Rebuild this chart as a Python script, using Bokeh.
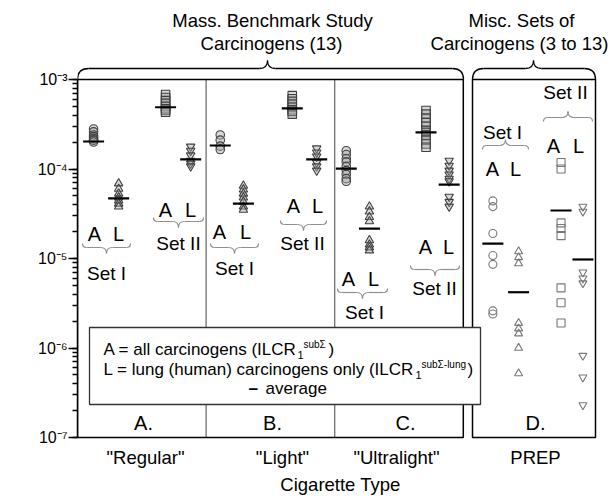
import math
from bokeh.plotting import figure
from bokeh.models import Range1d, Label, CustomJSTickFormatter
from bokeh.core.properties import value
from bokeh.embed import file_html
from bokeh.resources import INLINE

# ---------------- data (cancer risk sub-totals) ----------------
cigarette_types = ['"Regular"', '"Light"', '"Ultralight"', "PREP"]
panel_letters = ["A.", "B.", "C.", "D."]

# Set I, all carcinogens (A)
regular_s1_all = [2.8e-4, 2.6e-4, 2.4e-4, 2.3e-4, 2.2e-4, 2.1e-4, 2.1e-4, 2.0e-4]
light_s1_all = [2.4e-4, 2.1e-4, 1.8e-4, 1.65e-4]
ultra_s1_all = [1.6e-4, 1.45e-4, 1.3e-4, 1.2e-4, 1.07e-4, 9.6e-5, 8.7e-5, 7.8e-5, 7.3e-5]
prep_s1_all = [4.4e-5, 3.8e-5, 1.9e-5, 1.08e-5, 8.6e-6, 2.6e-6, 2.4e-6]
# Set I, lung carcinogens (L)
regular_s1_lung = [6.9e-5, 6.0e-5, 5.3e-5, 4.8e-5, 4.45e-5, 4.1e-5, 3.8e-5]
light_s1_lung = [6.5e-5, 5.9e-5, 5.3e-5, 4.8e-5, 4.3e-5, 3.8e-5, 3.5e-5]
ultra_s1_lung = [3.8e-5, 3.35e-5, 2.9e-5, 2.6e-5, 1.6e-5, 1.43e-5, 1.33e-5, 1.23e-5]
prep_s1_lung = [1.2e-5, 1.03e-5, 8.8e-6, 1.9e-6, 1.65e-6, 1.45e-6, 1.0e-6, 5.2e-7]
# Set II, all carcinogens (A)
regular_s2_all = [6.8e-4, 6.3e-4, 5.8e-4, 5.4e-4, 5.0e-4, 4.7e-4, 4.5e-4, 4.3e-4]
light_s2_all = [6.6e-4, 6.1e-4, 5.7e-4, 5.3e-4, 4.9e-4, 4.6e-4, 4.4e-4, 4.1e-4]
ultra_s2_all = [4.5e-4, 4.1e-4, 3.7e-4, 3.3e-4, 3.0e-4, 2.7e-4, 2.56e-4, 2.4e-4, 2.1e-4, 1.9e-4, 1.75e-4]
prep_s2_all = [1.18e-4, 1.0e-4, 2.5e-5, 2.16e-5, 1.8e-5, 4.7e-6, 3.2e-6, 1.9e-6]
# Set II, lung carcinogens (L)
regular_s2_lung = [1.78e-4, 1.6e-4, 1.42e-4, 1.24e-4, 1.15e-4, 1.07e-4]
light_s2_lung = [1.7e-4, 1.53e-4, 1.38e-4, 1.18e-4, 1.07e-4, 9.6e-5]
ultra_s2_lung = [1.24e-4, 1.09e-4, 9.6e-5, 8.7e-5, 7.8e-5, 7.3e-5, 4.9e-5, 4.3e-5, 3.8e-5]
prep_s2_lung = [3.8e-5, 3.35e-5, 7.0e-6, 6.0e-6, 5.3e-6, 8.2e-7, 4.7e-7, 2.3e-7]

# averages (Regular, Light, Ultralight, PREP)
avg_s1_all = [2.03e-4, 1.83e-4, 1.01e-4, 1.47e-5]
avg_s1_lung = [4.7e-5, 4.1e-5, 2.16e-5, 4.2e-6]
avg_s2_all = [4.9e-4, 4.75e-4, 2.56e-4, 3.44e-5]
avg_s2_lung = [1.28e-4, 1.28e-4, 6.7e-5, 9.75e-6]

# ---------------- layout ----------------
W, H = 611, 498
LEFT = 77
XPX = 128.6                     # pixels per panel unit
YPX = 89.5                      # pixels per decade
X_END = (W - LEFT) / XPX
LOG_TOP = -3 + 79 / YPX
LOG_BOT = LOG_TOP - H / YPX

# horizontal slot of each group inside its panel (panel units)
slot_s1_all = [0.125, 1.11, 2.09, 3.23]
slot_s1_lung = [0.32, 1.29, 2.27, 3.43]
slot_s2_all = [0.685, 1.67, 2.71, 3.76]
slot_s2_lung = [0.88, 1.86, 2.89, 3.93]


def X(px):
    return (px - LEFT) / XPX


def V(py):
    return 10 ** (-3 - (py - 79) / YPX)


FONT = value("Liberation Sans")

p = figure(width=W, height=H, x_range=Range1d(0, X_END),
           y_range=Range1d(10 ** LOG_BOT, 10 ** LOG_TOP), y_axis_type="log",
           x_axis_location=None, output_backend="svg", toolbar_location=None,
           min_border=0, min_border_left=LEFT)
p.outline_line_color = None
p.xgrid.visible = False
p.ygrid.visible = False

ax = p.yaxis[0]
ax.bounds = (1e-7, 1e-3)
ax.axis_line_color = "black"
ax.axis_line_width = 1.5
ax.major_tick_out = 9
ax.major_tick_in = 0
ax.minor_tick_out = 5
ax.minor_tick_in = 0
ax.major_tick_line_width = 1.5
ax.minor_tick_line_width = 1.5
ax.major_label_standoff = 1
ax.major_label_text_font = "Liberation Sans"
ax.major_label_text_font_size = "16px"
ax.major_label_text_color = "black"
ax.formatter = CustomJSTickFormatter(code="""
const e = Math.round(Math.log10(tick));
const sup = {"-":"\u207b","0":"\u2070","1":"\u00b9","2":"\u00b2","3":"\u00b3","4":"\u2074","5":"\u2075","6":"\u2076","7":"\u2077","8":"\u2078","9":"\u2079"};
return "10" + String(e).split("").map(c => sup[c]).join("");
""")

# ---------------- panel frames ----------------
p.segment(x0=[1, 2], x1=[1, 2], y0=[1e-7, 1e-7], y1=[1e-3, 1e-3],
          line_color="#6f6f6f", line_width=1.3)
p.quad(left=[0, X(472)], right=[3.0, X(595)], bottom=[1e-7, 1e-7], top=[1e-3, 1e-3],
       fill_color=None, line_color="black", line_width=1.5)


# ---------------- braces ----------------
def brace(x0, x1, base_py, c, t, d, color, lw, xm=None):
    """curly brace between page-x x0..x1 at page-y base_py; d=+1 tip up, -1 tip down"""
    if xm is None:
        xm = (x0 + x1) / 2
    yb = V(base_py)
    ye = V(base_py + d * c)
    yt = V(base_py - d * t)
    p.quadratic(x0=[X(x0), X(x1), X(xm - t), X(xm + t)],
                y0=[ye, ye, yb, yb],
                x1=[X(x0 + c), X(x1 - c), X(xm), X(xm)],
                y1=[yb, yb, yt, yt],
                cx=[X(x0), X(x1), X(xm), X(xm)],
                cy=[yb, yb, yb, yb], line_color=color, line_width=lw)
    p.segment(x0=[X(x0 + c), X(xm + t)], x1=[X(xm - t), X(x1 - c)],
              y0=[yb, yb], y1=[yb, yb], line_color=color, line_width=lw)


brace(77, 463, 68, 11, 8, 1, "black", 1.3, xm=267)
brace(472, 595, 68, 11, 8, 1, "black", 1.3, xm=533)
for (a, b, y, d) in [(82, 130, 247, -1), (153, 203, 221, -1), (210, 258, 247, -1),
                     (280, 326, 224, -1), (337, 387, 292, -1), (410, 459, 269, -1),
                     (482, 528, 145, 1), (543, 592, 117, 1)]:
    brace(a, b, y, 4, 6, d, "#8f8f8f", 1.2)

# ---------------- data marks ----------------
groups = [
    (slot_s1_all, [regular_s1_all, light_s1_all, ultra_s1_all, prep_s1_all], "circle"),
    (slot_s1_lung, [regular_s1_lung, light_s1_lung, ultra_s1_lung, prep_s1_lung], "triangle"),
    (slot_s2_all, [regular_s2_all, light_s2_all, ultra_s2_all, prep_s2_all], "square"),
    (slot_s2_lung, [regular_s2_lung, light_s2_lung, ultra_s2_lung, prep_s2_lung], "inverted_triangle"),
]
for slots, series, marker in groups:
    for i, vals in enumerate(series):
        if i < 3:
            p.scatter(x=[slots[i]] * len(vals), y=vals, marker=marker, size=8.5,
                      line_color="#404040", fill_color="#a0a0a0", fill_alpha=0.4,
                      line_width=1.1)
        else:
            p.scatter(x=[slots[i]] * len(vals), y=vals, marker=marker, size=8,
                      line_color="#777777", fill_color=None, line_width=1.1)

for slots, avgs in [(slot_s1_all, avg_s1_all), (slot_s1_lung, avg_s1_lung),
                    (slot_s2_all, avg_s2_all), (slot_s2_lung, avg_s2_lung)]:
    p.scatter(x=slots, y=avgs, marker="dash", size=21, line_color="black", line_width=2.2)

# ---------------- legend box ----------------
p.quad(left=[X(89)], right=[X(480)], bottom=[V(404)], top=[V(327)],
       fill_color="white", line_color="#333333", line_width=1.3)


def txt(xs, ys, texts, size, align="center", color="black", yoff=0, style="normal"):
    p.text(x=xs, y=ys, text=texts, text_font=FONT, text_font_size=size,
           text_align=align, text_baseline="middle", text_color=color,
           y_offset=yoff, text_font_style=style)


L1, L2, L3 = 349, 369, 388
txt([X(103)], [V(L1)], ["A = all carcinogens (ILCR"], "17px", align="left")
txt([X(297)], [V(L1)], ["1"], "11px", align="left", yoff=5)
txt([X(303)], [V(L1)], ["sub\u03a3"], "10px", align="left", yoff=-5)
txt([X(328)], [V(L1)], [")"], "17px", align="left")
txt([X(103)], [V(L2)], ["L = lung (human) carcinogens only (ILCR"], "17px", align="left")
txt([X(415)], [V(L2)], ["1"], "11px", align="left", yoff=5)
txt([X(421)], [V(L2)], ["sub\u03a3-lung"], "10px", align="left", yoff=-5)
txt([X(467)], [V(L2)], [")"], "17px", align="left")
txt([X(248)], [V(L3)], ["\u2013"], "17px", align="left", style="bold")
txt([X(265)], [V(L3)], ["average"], "17px", align="left")

# ---------------- texts ----------------
txt([X(272), X(271), X(521), X(519)], [V(20), V(43), V(20), V(43)],
    ["Mass. Benchmark Study", "Carcinogens (13)", "Misc. Sets of", "Carcinogens (3 to 13)"],
    "18.5px")
# A / L labels
al_x = [94, 118, 165, 190, 219, 245, 293, 317, 348, 373, 425, 448, 492, 515, 553, 578]
al_y = [233, 233, 209, 209, 231, 231, 205, 205, 278, 278, 246, 246, 168, 168, 145, 145]
txt([X(v) for v in al_x], [V(v) for v in al_y], ["A", "L"] * 8, "20px")
# set labels
set_x = [106, 178, 234, 302, 364, 434, 502, 565]
set_y = [273, 243, 268, 243, 312, 288, 132, 92]
txt([X(v) for v in set_x], [V(v) for v in set_y], ["Set I", "Set II"] * 4, "19px")
# panel letters and cigarette types
txt([X(143), X(272), X(405), X(535)], [V(422)] * 4, panel_letters, "20px")
txt([X(145), X(282), X(396), X(535)], [V(457)] * 4, cigarette_types, "18.5px")
txt([X(340)], [V(484)], ["Cigarette Type"], "18.5px")

p.add_layout(Label(x=X(22), y=V(258), text="Cancer Risk Sub-Total", angle=math.pi / 2,
                   text_font="Liberation Sans", text_font_size="18.5px",
                   text_align="center", text_baseline="middle"))

open("out.html", "w").write(file_html(p, INLINE))
